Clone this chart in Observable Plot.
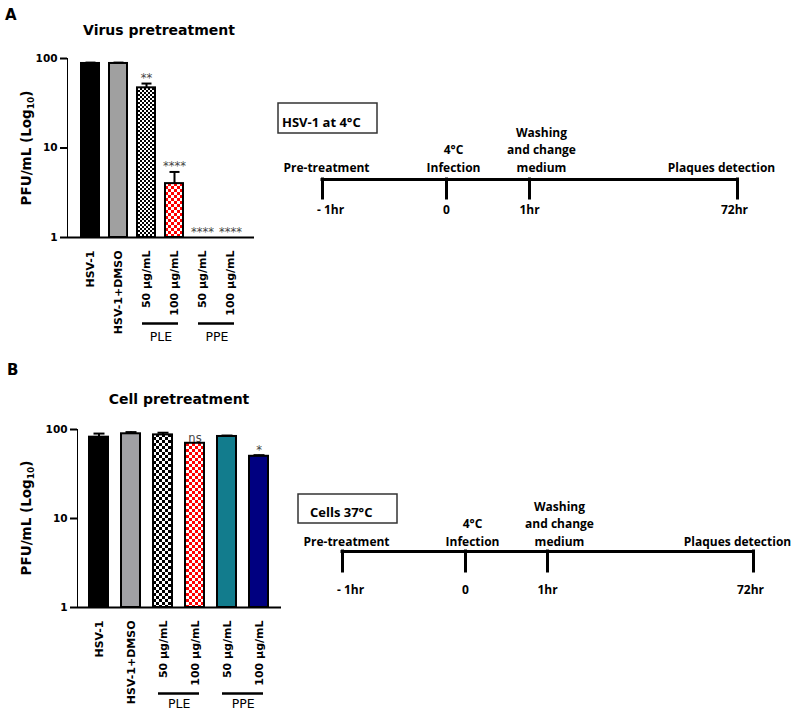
<!DOCTYPE html>
<html><head><meta charset="utf-8">
<script src="https://cdn.jsdelivr.net/npm/d3@7"></script>
<script src="https://cdn.jsdelivr.net/npm/@observablehq/plot@0.6"></script>
<style>
body{margin:0;background:#fff;}
#root{position:relative;width:797px;height:715px;overflow:hidden;background:#fff;}
#root > .piece{position:absolute;}
.bars [aria-label^="y-axis"] line, .bars [aria-label^="y-axis"] path{stroke-width:2px;stroke:#000;}
.bars [aria-label^="y-axis"] text{font-size:10.5px;}
.bars [aria-label^="x-axis"] text{font-size:11px;}
</style></head>
<body><div id="root"></div>
<script>
// ---------- data ----------
const categories = ["HSV-1", "HSV-1+DMSO", "50 µg/mL", "100 µg/mL", "50 µg/mL", "100 µg/mL"];
const categoryIds = ["HSV", "DMSO", "PLE50", "PLE100", "PPE50", "PPE100"];
const groupNames = ["PLE", "PPE"];
const groupStart = ["PLE50", "PPE50"];
const groupEnd = ["PLE100", "PPE100"];
const yTicks = [1, 10, 100];
const yLabelParts = ["PFU/mL (Log", "10", ")"];
const virusMean = [88, 88, 47, 4, 0, 0];
const virusErr = [2, 2, 5.5, 1.4, 0, 0];
const virusSig = ["", "", "**", "****", "****", "****"];
const cellMean = [82, 89.5, 87, 70, 83.5, 50];
const cellErr = [8, 4, 5, 0, 2, 1.5];
const cellSig = ["", "", "", "ns", "", "*"];
const times = [-1, 0, 1, 72];
const timeLabels = ["- 1hr", "0", "1hr", "72hr"];
const stepLabels = ["Pre-treatment", "4°C\nInfection", "Washing\nand change\nmedium", "Plaques detection"];
const panelLetters = ["A", "B"];
const panelTitles = ["Virus pretreatment", "Cell pretreatment"];
const conditions = ["HSV-1 at 4°C", "Cells 37°C"];

// ---------- styles ----------
const fillA = {HSV: "#000000", DMSO: "#a0a0a0", PLE50: "url(#patGrayA)", PLE100: "url(#patRedA)", PPE50: "#127c8d", PPE100: "#000080"};
const fillB = {HSV: "#000000", DMSO: "#a0a0a4", PLE50: "url(#patBlkB)", PLE100: "url(#patRedB)", PPE50: "#127c8d", PPE100: "#000080"};
const stepShift = [4, 7, 12, -16];
const timeShift = [8, 0, 0, -3];

const capSymbol = {draw(context, size) { const w = Math.sqrt(size / Math.PI); context.moveTo(-w, 0); context.lineTo(w, 0); }};

const root = document.getElementById("root");
function place(node, left, top, cls) {
  node.classList.add("piece");
  if (cls) node.classList.add(cls);
  node.style.left = left + "px";
  node.style.top = top + "px";
  root.appendChild(node);
}

function addPatterns(svg, defsSpec) {
  const defs = d3.select(svg).insert("defs", ":first-child");
  for (const p of defsSpec) {
    const pat = defs.append("pattern").attr("id", p.id).attr("patternUnits", "userSpaceOnUse")
      .attr("width", p.size * 2).attr("height", p.size * 2);
    pat.append("rect").attr("width", p.size * 2).attr("height", p.size * 2).attr("fill", p.bg);
    pat.append("rect").attr("width", p.size).attr("height", p.size).attr("fill", p.fg);
    pat.append("rect").attr("x", p.size).attr("y", p.size).attr("width", p.size).attr("height", p.size).attr("fill", p.fg);
  }
}

function barChart(o) {
  const rows = categoryIds.map((id, i) => ({id, v: o.mean[i], e: o.err[i], s: o.sig[i], fill: o.fills[id]}));
  const groups = groupNames.map((g, i) => ({name: g, from: groupStart[i], to: groupEnd[i]}));
  const labelOf = Object.fromEntries(categoryIds.map((id, i) => [id, categories[i]]));
  const n = categoryIds.length;
  const step = (o.width - o.mL - o.mR) / (n - o.pi + 2 * o.po);
  const shown = rows.filter(d => d.v >= 1);
  const withErr = shown.filter(d => d.e > 0);
  return Plot.plot({
    width: o.width, height: o.height,
    marginLeft: o.mL, marginRight: o.mR, marginTop: o.mT, marginBottom: o.mB,
    style: {fontFamily: "'DejaVu Sans', sans-serif", fontSize: "11px", fontWeight: "bold", color: "#000", background: "transparent", overflow: "visible"},
    x: {type: "band", domain: categoryIds, paddingInner: o.pi, paddingOuter: o.po, tickRotate: -90, tickSize: 0, tickPadding: 13, tickFormat: id => labelOf[id], label: null},
    y: {type: "log", domain: [1, 100], ticks: yTicks, tickFormat: d => String(d), tickSize: 7, tickPadding: 3, line: true, label: null},
    color: {type: "identity"},
    marks: [
      Plot.barY(shown, {x: "id", y1: () => 1, y2: "v", fill: "fill", stroke: "#000", strokeWidth: 2}),
      Plot.ruleX(withErr, {x: "id", y1: "v", y2: d => d.v + d.e, stroke: "#000", strokeWidth: 2}),
      Plot.dot(withErr, {x: "id", y: d => d.v + d.e, symbol: capSymbol, r: o.capR, stroke: "#000", strokeWidth: 2, fill: "none"}),
      Plot.ruleY(yTicks.slice(0, 1), {stroke: "#000", strokeWidth: 2}),
      Plot.text(rows.filter(d => d.s), {x: "id", y: d => Math.max(1, d.v + d.e), text: "s", lineAnchor: "bottom", dy: o.sigDy, fontSize: 11.5, fontWeight: "normal", fill: "#444"}),
      Plot.ruleY(groups, {x1: "from", x2: "to", y: () => 1, dy: 86, insetLeft: 5, insetRight: 5, stroke: "#000", strokeWidth: 2.5}),
      Plot.text(groups, {x: "from", y: () => 1, text: "name", dx: step / 2, dy: o.gDy, fontWeight: "normal", fontSize: 12.5})
    ]
  });
}

function timeline(o) {
  const ev = times.map((t, i) => ({t, time: timeLabels[i], step: stepLabels[i]}));
  const marks = [
    Plot.ruleY([0], {x1: () => times[0], x2: () => times[times.length - 1], stroke: "#000", strokeWidth: 3, strokeLinecap: "square"}),
    Plot.ruleX(ev, {x: "t", y1: () => 0, y2: () => 1, stroke: "#000", strokeWidth: 3, strokeLinecap: "square"})
  ];
  ev.forEach((d, i) => {
    marks.push(Plot.text([d], {x: "t", y: () => 0, text: "step", lineAnchor: "bottom", dy: o.aboveDy, dx: stepShift[i], lineHeight: 1.42}));
    marks.push(Plot.text([d], {x: "t", y: () => 1, text: "time", lineAnchor: "top", dy: o.belowDy, dx: timeShift[i]}));
  });
  return Plot.plot({
    width: o.width, height: o.height, margin: 0,
    x: {type: "linear", domain: times, range: o.xRange, axis: null},
    y: {type: "linear", domain: [0, 1], range: o.yRange, axis: null},
    style: {fontFamily: "'Open Sans', sans-serif", fontSize: "12px", fontWeight: "bold", color: "#000", background: "transparent", overflow: "visible"},
    marks
  });
}

// ---------- panel A ----------
const plotA = barChart({mean: virusMean, err: virusErr, sig: virusSig, fills: fillA, width: 270, height: 350, mL: 67, mT: 58, mB: 113, mR: 16, pi: 0.345, po: 0.397, capR: 5, sigDy: -2, gDy: 99});
addPatterns(plotA, [
  {id: "patGrayA", size: 2, bg: "#ffffff", fg: "#000000"},
  {id: "patRedA", size: 3, bg: "#ff0000", fg: "#ffffff"}
]);
place(plotA, 0, 0, "bars");

const tlA = timeline({width: 527, height: 140, xRange: [322 - 270, 446 - 270, 529 - 270, 737 - 270], yRange: [179 - 90, 198 - 90], aboveDy: -8, belowDy: 6.5});
place(tlA, 270, 90);

// ---------- panel B ----------
const plotB = barChart({mean: cellMean, err: cellErr, sig: cellSig, fills: fillB, width: 300, height: 335, mL: 77, mT: 49, mB: 108, mR: 19, pi: 0.4, po: 0.338, capR: 5.5, sigDy: -1, gDy: 96});
addPatterns(plotB, [
  {id: "patBlkB", size: 3, bg: "#ffffff", fg: "#000000"},
  {id: "patRedB", size: 3, bg: "#ff0000", fg: "#ffffff"}
]);
place(plotB, 0, 380, "bars");

const tlB = timeline({width: 507, height: 140, xRange: [342 - 290, 465 - 290, 547 - 290, 753 - 290], yRange: [551 - 470, 571 - 470], aboveDy: -6, belowDy: 13.5});
place(tlB, 290, 470);

// ---------- overlay texts ----------
const ov = d3.select(root).append("svg").attr("width", 797).attr("height", 715)
  .style("position", "absolute").style("left", "0px").style("top", "0px").style("pointer-events", "none");
const bold = sel => sel.attr("font-family", "'DejaVu Sans', sans-serif").attr("font-weight", "bold").attr("fill", "#000");

[[5, 20], [7, 375]].forEach(([x, y], i) => bold(ov.append("text")).attr("x", x).attr("y", y).attr("font-size", 15).text(panelLetters[i]));
[[159, 35], [179, 404]].forEach(([x, y], i) => bold(ov.append("text")).attr("x", x).attr("y", y).attr("text-anchor", "middle").attr("font-size", 14).text(panelTitles[i]));
[[31, 148], [31, 518]].forEach(([x, y]) => {
  const t = bold(ov.append("text")).attr("transform", `translate(${x},${y}) rotate(-90)`).attr("text-anchor", "middle").attr("font-size", 13.5);
  t.append("tspan").text(yLabelParts[0]);
  t.append("tspan").attr("font-size", 9).attr("dy", 3).text(yLabelParts[1]);
  t.append("tspan").attr("dy", -3).text(yLabelParts[2]);
});
[[278, 103, 99, 30, 282, 127], [298, 494, 99, 29, 310, 517]].forEach(([x, y, w, h, tx, ty], i) => {
  ov.append("rect").attr("x", x).attr("y", y).attr("width", w).attr("height", h).attr("fill", "#fff").attr("stroke", "#333").attr("stroke-width", 1.5);
  ov.append("text").attr("x", tx).attr("y", ty).attr("font-family", "'Open Sans', sans-serif").attr("font-weight", "bold").attr("font-size", 13).attr("fill", "#000").text(conditions[i]);
});
</script>
</body></html>
